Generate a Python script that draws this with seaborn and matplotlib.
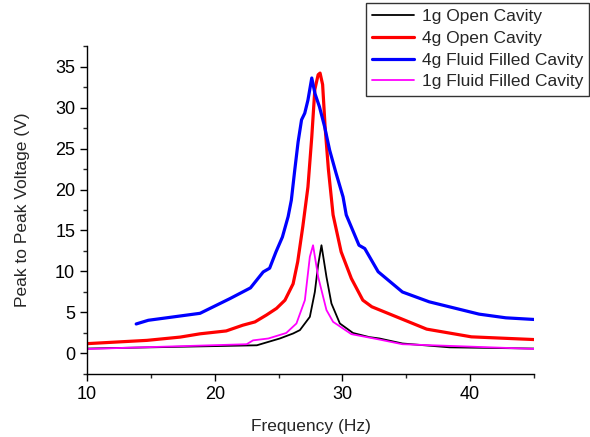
import matplotlib
matplotlib.use("Agg")
import matplotlib.pyplot as plt
from matplotlib.ticker import MultipleLocator
import seaborn as sns
import pandas as pd

# ---- data ----
x_1g_open = [10, 23.3, 25.1, 26.14, 26.67, 27.45, 27.84, 28.1, 28.36, 28.75, 29.14, 29.8, 30.83, 32.1, 32.9, 34.7, 38.4, 45]
y_1g_open = [0.6, 1.0, 1.83, 2.44, 2.85, 4.47, 7.5, 10.8, 13.2, 9.35, 6.1, 3.66, 2.5, 2.0, 1.83, 1.22, 0.75, 0.6]

x_4g_open = [10, 14.7, 17.3, 18.85, 20.9, 22.2, 23.15, 24.06, 24.84, 25.5, 26.14, 26.5, 26.9, 27.3, 27.6, 27.84, 28.1, 28.25, 28.45, 28.65, 28.9, 29.27, 29.9, 30.7, 31.6, 32.3, 36.6, 40.1, 45]
y_4g_open = [1.2, 1.6, 2.0, 2.4, 2.75, 3.45, 3.85, 4.7, 5.5, 6.5, 8.5, 11.2, 15.5, 20.3, 26.4, 32.2, 34.0, 34.2, 32.8, 27.5, 22.5, 16.9, 12.4, 9.15, 6.5, 5.7, 2.97, 2.03, 1.7]

x_4g_fluid = [13.85, 14.8, 18.85, 21.2, 22.8, 23.8, 24.3, 24.8, 25.3, 25.75, 26.0, 26.27, 26.53, 26.8, 27.05, 27.3, 27.6, 27.85, 28.2, 28.6, 29.0, 29.5, 30.05, 30.3, 30.8, 31.3, 31.75, 32.8, 34.7, 36.8, 40.7, 42.8, 45.0]
y_4g_fluid = [3.6, 4.05, 4.9, 6.7, 8.0, 9.95, 10.4, 12.4, 14.2, 16.7, 18.7, 22.4, 25.8, 28.5, 29.3, 30.9, 33.6, 31.7, 30.1, 27.7, 24.8, 22.0, 19.1, 16.9, 15.05, 13.2, 12.8, 9.97, 7.5, 6.3, 4.8, 4.35, 4.15]

x_1g_fluid = [10, 22.5, 23.0, 24.2, 25.6, 26.4, 27.06, 27.45, 27.7, 28.1, 28.75, 29.27, 30.7, 32.9, 34.7, 45]
y_1g_fluid = [0.55, 1.13, 1.6, 1.83, 2.5, 3.66, 6.5, 11.8, 13.2, 9.35, 5.3, 3.86, 2.36, 1.7, 1.13, 0.56]

labels = ["1g Open Cavity", "4g Open Cavity", "4g Fluid Filled Cavity", "1g Fluid Filled Cavity"]
colors = ["#000000", "#ff0000", "#0000ff", "#ff00ff"]
widths = [1.3, 2.3, 2.3, 1.3]

series = [(x_1g_open, y_1g_open), (x_4g_open, y_4g_open),
          (x_4g_fluid, y_4g_fluid), (x_1g_fluid, y_1g_fluid)]

sns.set_style("ticks")
plt.rcParams["font.family"] = ["Liberation Sans", "DejaVu Sans"]

fig = plt.figure(figsize=(5.9, 4.37), dpi=100)
ax = fig.add_axes([0.1475, 0.1442, 0.905 - 0.1475, 0.8947 - 0.1442])

for (xs, ys), lab, c, w in zip(series, labels, colors, widths):
    df = pd.DataFrame({"Frequency": xs, "Voltage": ys})
    sns.lineplot(data=df, x="Frequency", y="Voltage", ax=ax, color=c,
                 linewidth=w, label=lab, sort=False, estimator=None)

ax.set_xlim(10, 45)
ax.set_ylim(-2.5, 37.5)
ax.xaxis.set_major_locator(MultipleLocator(10))
ax.xaxis.set_minor_locator(MultipleLocator(5))
ax.yaxis.set_major_locator(MultipleLocator(5))
ax.yaxis.set_minor_locator(MultipleLocator(2.5))
ax.tick_params(which="major", direction="out", length=5, width=1, labelsize=13, colors="black")
ax.tick_params(which="minor", direction="out", length=3, width=1)
sns.despine(ax=ax)
for s in ["left", "bottom"]:
    ax.spines[s].set_linewidth(1)
    ax.spines[s].set_color("black")

ax.set_xlabel("Frequency (Hz)", fontsize=12.5, labelpad=12)
ax.set_ylabel("Peak to Peak Voltage (V)", fontsize=12.5, labelpad=18)

leg = ax.legend(loc="upper right", bbox_to_anchor=(589 / 590, 1 - 3 / 437),
                bbox_transform=fig.transFigure, fontsize=12.5, frameon=True,
                fancybox=False, edgecolor="#333333", handlelength=2.4,
                borderpad=0.35, labelspacing=0.38, handletextpad=0.45,
                borderaxespad=0)
leg.get_frame().set_linewidth(1)
leg.get_frame().set_alpha(1)

fig.savefig("out.png", dpi=100)
